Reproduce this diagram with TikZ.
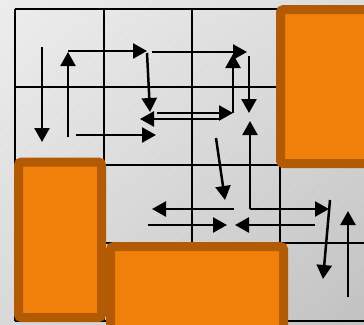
\documentclass[tikz,border=0pt]{standalone}
\usetikzlibrary{arrows.meta,shadings}
\definecolor{blockfill}{HTML}{F08009}
\definecolor{blockedge}{HTML}{B25A04}
\begin{document}
\begin{tikzpicture}[x=1pt,y=-1pt,
  gridline/.style={line width=2.4pt,black},
  block/.style={line width=9pt,draw=blockedge,fill=blockfill,rounded corners=3pt},
  arr/.style={line width=2.5pt,-{Triangle[length=14pt,width=15pt]}}]
\useasboundingbox (0,0) rectangle (364,324);
\shade[upper left=black!7,upper right=black!14,lower left=black!15,lower right=black!24] (0,0) rectangle (364,324);
% grid
\foreach \x in {15,104,192,280} \draw[gridline] (\x,9) -- (\x,321);
\foreach \y in {9,87,165,243,321} \draw[gridline] (15,\y) -- (364,\y);
% blocks
\draw[block] (280.5,9.5) rectangle (375,163.5);
\draw[block] (18.5,162) rectangle (101.5,317.5);
\draw[block] (110.5,246.5) rectangle (283.5,335);
% coordinates
\coordinate (a1s) at (42,47);   \coordinate (a1e) at (42,142);
\coordinate (a2s) at (68,137);  \coordinate (a2e) at (68,52);
\coordinate (a3s) at (68,51);   \coordinate (a3e) at (147,51);
\coordinate (a4s) at (76,135);  \coordinate (a4e) at (156,135);
\coordinate (a5s) at (147,53);  \coordinate (a5e) at (150,112);
\coordinate (a6s) at (152,52);  \coordinate (a6e) at (247,52);
\coordinate (a7s) at (157,113); \coordinate (a7e) at (233,113);
\coordinate (a8s) at (233,113); \coordinate (a8e) at (233,54);
\coordinate (a9s) at (220,119); \coordinate (a9e) at (140,119);
\coordinate (a10s) at (249,56); \coordinate (a10e) at (249,113);
\coordinate (a11s) at (250,209); \coordinate (a11e) at (250,121);
\coordinate (a12e) at (329,209);
\coordinate (a13s) at (216,138); \coordinate (a13e) at (225,200);
\coordinate (a14s) at (234,209); \coordinate (a14e) at (152,209);
\coordinate (a15s) at (148,225); \coordinate (a15e) at (227,225);
\coordinate (a16s) at (315,225); \coordinate (a16e) at (235,225);
\coordinate (a17s) at (330,200); \coordinate (a17e) at (323,279);
\coordinate (a18s) at (348,297); \coordinate (a18e) at (348,211);
% arrows
\draw[arr] (a1s) -- (a1e);
\draw[arr] (a2s) -- (a2e);
\draw[arr] (a3s) -- (a3e);
\draw[arr] (a4s) -- (a4e);
\draw[arr] (a5s) -- (a5e);
\draw[arr] (a6s) -- (a6e);
\draw[arr] (a7s) -- (a7e);
\draw[arr] (a8s) -- (a8e);
\draw[arr] (a9s) -- (a9e);
\draw[arr] (a10s) -- (a10e);
\draw[arr] (a11s) -- (a11e);
\draw[arr] (a11s) -- (a12e);
\draw[arr] (a13s) -- (a13e);
\draw[arr] (a14s) -- (a14e);
\draw[arr] (a15s) -- (a15e);
\draw[arr] (a16s) -- (a16e);
\draw[arr] (a17s) -- (a17e);
\draw[arr] (a18s) -- (a18e);
\end{tikzpicture}
\end{document}
